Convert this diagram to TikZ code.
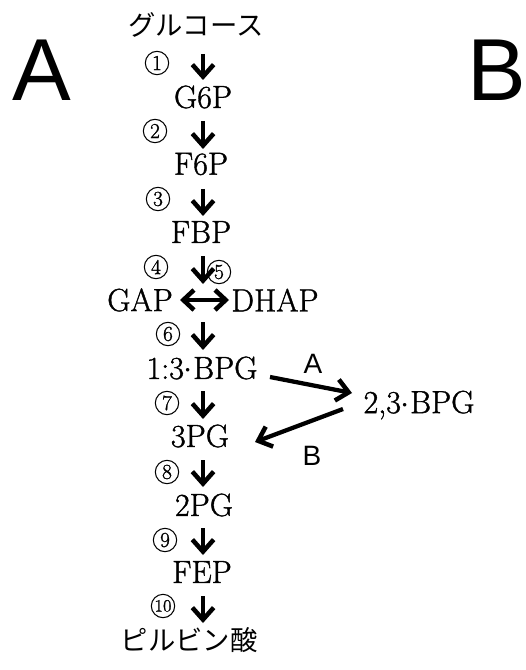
\documentclass[tikz,border=0pt]{standalone}
\usepackage{fontspec}
\newfontfamily\jpfont{Noto Sans CJK JP}
\newfontfamily\sansfont{Liberation Sans}
\newfontfamily\metfont{Latin Modern Roman}[FakeBold=1.2]
\usetikzlibrary{arrows.meta}
\tikzset{
  met/.style={inner sep=0pt, font=\metfont\fontsize{24}{26}\selectfont},
  jp/.style={inner sep=0pt, font=\jpfont\fontsize{20.5}{23}\selectfont},
  num/.style={circle, draw, line width=0.8pt, minimum size=17.5pt, inner sep=0pt,
              font=\metfont\fontsize{16}{17}\selectfont},
  panel/.style={inner sep=0pt, font=\sansfont\fontsize{66}{68}\selectfont},
  tag/.style={inner sep=0pt, font=\sansfont\fontsize{21}{23}\selectfont},
  flow/.style={line width=3.2pt, -{Straight Barb[length=9pt,width=16pt,line width=3.4pt]}},
  both/.style={line width=3.2pt, {Straight Barb[length=8pt,width=15pt,line width=3.4pt]}-{Straight Barb[length=8pt,width=15pt,line width=3.4pt]}},
}
\begin{document}
\begin{tikzpicture}[x=0.75pt,y=-0.75pt]
\useasboundingbox (0,0) rectangle (525,670);

% panel letters
\node[panel] (pa) at (42,70) {A};
\node[panel] (pb) at (497,70) {B};

% metabolites
\node[jp]  (glc)  at (196,25)  {グルコース};
\node[met] (g6p)  at (203,97)  {G6P};
\node[met] (f6p)  at (201,164) {F6P};
\node[met] (fbp)  at (201,232) {FBP};
\node[met] (gap)  at (140,300) {GAP};
\node[met] (dhap) at (275,300) {DHAP};
\node[met] (bpg)  at (202,368) {1:3$\cdot$BPG};
\node[met] (bpg23) at (419,405) {2,3$\cdot$BPG};
\node[met] (pg3)  at (200,436) {3PG};
\node[met] (pg2)  at (204,505) {2PG};
\node[met] (pep)  at (202,572) {FEP};
\node[jp]  (pyr)  at (189,640) {ピルビン酸};

% ends of the free connectors
\coordinate (jn) at (203,284);
\coordinate (gl) at (180,300);
\coordinate (dr) at (229,300);

% step arrows
\draw[flow] (203,54) -- (203,80);
\draw[flow] (203,121) -- (203,149);
\draw[flow] (203,189) -- (203,216);
\draw[flow] (203,256) -- (jn);
\draw[both] (gl) -- (dr);
\draw[flow] (203,322) -- (203,350);
\draw[flow] (203,391) -- (203,419);
\draw[flow] (203,460) -- (203,487);
\draw[flow] (203,528) -- (203,555);
\draw[flow] (203,596) -- (203,623);

% enzyme step numbers
\node[num] (n1)  at (157,63)  {1};
\node[num] (n2)  at (155,131) {2};
\node[num] (n3)  at (158,199) {3};
\node[num] (n4)  at (156,267) {4};
\node[num] (n5)  at (219,272) {5};
\node[num] (n6)  at (168,334) {6};
\node[num] (n7)  at (167,403) {7};
\node[num] (n8)  at (167,472) {8};
\node[num] (n9)  at (165,540) {9};
\node[num, font=\metfont\fontsize{13}{14}\selectfont] (n10) at (163,606) {10};

% shunt via 2,3-BPG
\coordinate (a0) at (270,377);
\coordinate (a1) at (352,393);
\coordinate (b0) at (343,409);
\coordinate (b1) at (255,442);
\draw[flow] (a0) -- (a1);
\draw[flow] (b0) -- (b1);
\node[tag] (ta) at (313,364) {A};
\node[tag] (tb) at (312,456) {B};
\end{tikzpicture}
\end{document}
